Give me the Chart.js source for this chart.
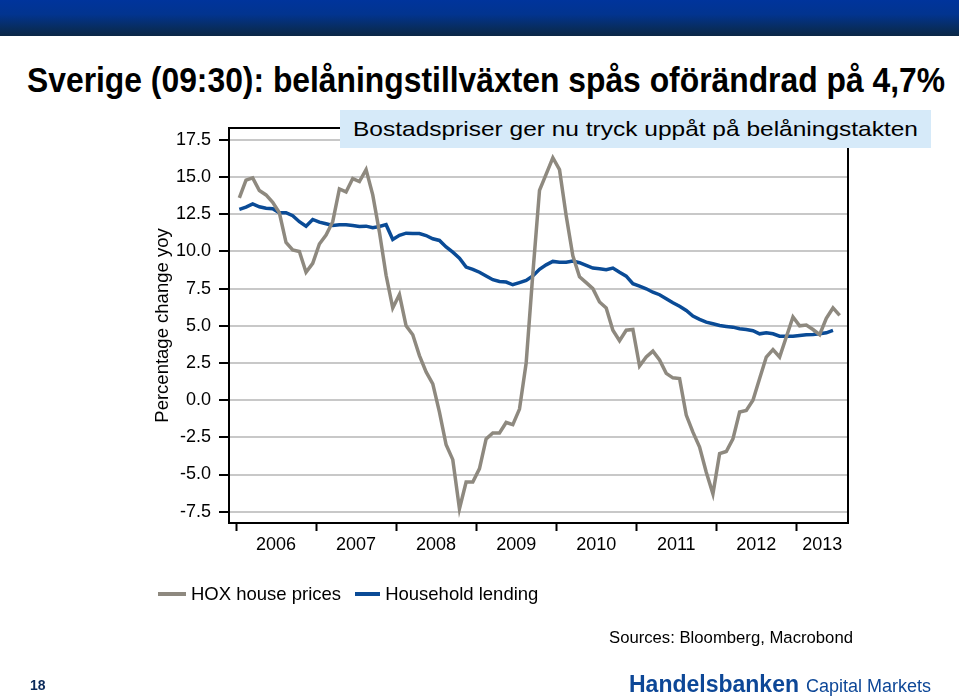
<!DOCTYPE html>
<html>
<head>
<meta charset="utf-8">
<script src="https://cdn.jsdelivr.net/npm/chart.js@4/dist/chart.umd.min.js"></script>
<style>
  html, body { margin: 0; padding: 0; background: #fff; }
  body { width: 959px; height: 700px; position: relative; overflow: hidden; font-family: "Liberation Sans", Arial, sans-serif; }
  #banner { position: absolute; left: 0; top: 0; width: 959px; height: 36px;
    background: linear-gradient(to bottom, #00349c 0%, #02348f 40%, #082c5c 80%, #0b2846 100%); }
  #title { position: absolute; left: 27px; top: 62px; font-size: 35px; line-height: 35px; font-weight: bold; color: #000;
    white-space: nowrap; transform-origin: left center; }
  #chartBox { position: absolute; left: 0; top: 0; width: 959px; height: 700px; }
  #note { position: absolute; left: 340px; top: 110px; width: 591px; height: 38px; background: #d6eaf9;
    display: flex; align-items: center; z-index: 2; }
  #note span { margin-left: 13px; font-size: 21px; color: #000; white-space: nowrap; display: inline-block; transform-origin: left center; }
  #legend { position: absolute; left: 158px; top: 583px; height: 22px; display: flex; align-items: center; font-size: 18.5px; color: #000; white-space: nowrap; }
  #legend .sw { display: inline-block; height: 4px; margin-right: 5px; }
  #sources { position: absolute; left: 609px; top: 628px; font-size: 16.7px; color: #000; white-space: nowrap; }
  #page { position: absolute; left: 30px; top: 677px; font-size: 14px; font-weight: bold; color: #0b2a5a; }
  #brand { position: absolute; left: 629px; top: 671px; white-space: nowrap; color: #0d4797; }
  #brand b { font-size: 23px; }
  #brand span { font-size: 18px; margin-left: 7px; }
</style>
</head>
<body>
<div id="banner"></div>
<div id="title">Sverige (09:30): belåningstillväxten spås oförändrad på 4,7%</div>
<div id="chartBox"><canvas id="chart"></canvas></div>
<div id="note"><span>Bostadspriser ger nu tryck uppåt på belåningstakten</span></div>
<div id="legend"></div>
<div id="sources">Sources: Bloomberg, Macrobond</div>
<div id="page">18</div>
<div id="brand"><b>Handelsbanken</b><span>Capital Markets</span></div>

<script>
// monthly data, Jan 2006 onwards
const yearLabels = ['2006', '2007', '2008', '2009', '2010', '2011', '2012', '2013'];
const yTickValues = [-7.5, -5, -2.5, 0, 2.5, 5, 7.5, 10, 12.5, 15, 17.5];

const hoxHousePrices = [
  13.6, 14.8, 14.95, 14.1, 13.8, 13.3, 12.6, 10.6, 10.1, 10.0, 8.6, 9.2,
  10.5, 11.1, 12.0, 14.2, 14.0, 14.9, 14.7, 15.5, 13.8, 11.3, 8.4, 6.2,
  7.1, 5.0, 4.4, 3.0, 1.9, 1.1, -0.8, -3.0, -4.0, -7.3, -5.5, -5.5,
  -4.6, -2.6, -2.2, -2.2, -1.5, -1.65, -0.6, 2.5, 8.5, 14.1, 15.2, 16.3,
  15.5, 12.4, 9.7, 8.3, 7.9, 7.5, 6.6, 6.2, 4.7, 4.0, 4.7, 4.75,
  2.3, 2.9, 3.3, 2.7, 1.8, 1.5, 1.45, -1.0, -2.15, -3.15, -4.85, -6.3,
  -3.6, -3.45, -2.6, -0.8, -0.7, 0.0, 1.45, 2.9, 3.4, 2.9, 4.25, 5.6,
  5.0, 5.05, 4.75, 4.4, 5.5, 6.2, 5.7
];

const householdLending = [
  12.83, 12.98, 13.2, 13.0, 12.9, 12.87, 12.6, 12.6, 12.4, 12.0, 11.7, 12.15,
  11.97, 11.86, 11.75, 11.8, 11.8, 11.75, 11.68, 11.7, 11.6, 11.68, 11.8, 10.8,
  11.08, 11.23, 11.2, 11.2, 11.07, 10.85, 10.74, 10.3, 9.95, 9.55, 8.95, 8.8,
  8.6, 8.35, 8.1, 7.98, 7.94, 7.76, 7.9, 8.05, 8.35, 8.8, 9.1, 9.33,
  9.28, 9.28, 9.35, 9.24, 9.06, 8.88, 8.84, 8.77, 8.88, 8.6, 8.34, 7.83,
  7.67, 7.49, 7.26, 7.09, 6.82, 6.55, 6.32, 6.03, 5.65, 5.43, 5.25, 5.14,
  5.02, 4.96, 4.91, 4.8, 4.75, 4.67, 4.46, 4.53, 4.46, 4.3, 4.3, 4.3,
  4.35, 4.4, 4.42, 4.46, 4.53, 4.69
];

const seriesNames = ['HOX house prices', 'Household lending'];
const grayColor = '#8e897f';
const blueColor = '#0a4b96';

// x is months since start of 2006, point placed mid-month
const toPoints = arr => arr.map((v, i) => ({ x: i + 0.5, y: v }));

// fit title and note text to the widths seen on the slide
function fitWidth(el, target) {
  const w = el.getBoundingClientRect().width;
  el.style.transform = 'scaleX(' + (target / w) + ')';
}
fitWidth(document.getElementById('title'), 918);
fitWidth(document.querySelector('#note span'), 565);

// legend
const legend = document.getElementById('legend');
[[seriesNames[0], grayColor, 28], [seriesNames[1], blueColor, 25]].forEach(([name, col, w], k) => {
  const item = document.createElement('span');
  item.style.display = 'inline-flex';
  item.style.alignItems = 'center';
  item.style.marginRight = k === 0 ? '14px' : '0';
  item.innerHTML = '<span class="sw" style="width:' + w + 'px;background:' + col + '"></span>' + name;
  legend.appendChild(item);
});

Chart.defaults.font.family = '"Liberation Sans", Arial, sans-serif';
Chart.defaults.color = '#000';

const frame = {
  id: 'frame',
  afterDraw(chart) {
    const { ctx, chartArea: a, scales } = chart;
    ctx.save();
    ctx.strokeStyle = '#000';
    ctx.lineWidth = 2;
    ctx.beginPath();
    ctx.moveTo(a.left, a.top);
    ctx.lineTo(a.right, a.top);
    ctx.lineTo(a.right, a.bottom);
    ctx.stroke();

    // year labels centred in the visible part of each year
    const x = scales.x;
    ctx.font = '18px "Liberation Sans", Arial, sans-serif';
    ctx.fillStyle = '#000';
    ctx.textAlign = 'center';
    ctx.textBaseline = 'middle';
    yearLabels.forEach((lab, k) => {
      const p1 = x.getPixelForValue(k * 12);
      const p2 = Math.min(x.getPixelForValue((k + 1) * 12), a.right);
      ctx.fillText(lab, (p1 + p2) / 2, a.bottom + 22);
    });
    ctx.restore();
  }
};

new Chart(document.getElementById('chart'), {
  type: 'line',
  data: {
    datasets: [
      { label: seriesNames[0], data: toPoints(hoxHousePrices), borderColor: grayColor, borderWidth: 3.5, pointRadius: 0, tension: 0 },
      { label: seriesNames[1], data: toPoints(householdLending), borderColor: blueColor, borderWidth: 3.5, pointRadius: 0, tension: 0 }
    ]
  },
  options: {
    responsive: true,
    maintainAspectRatio: false,
    animation: false,
    layout: { padding: { top: 128, left: 150, right: 111, bottom: 137 } },
    plugins: { legend: { display: false }, tooltip: { enabled: false } },
    scales: {
      x: {
        type: 'linear',
        min: -1.05,
        max: 91.75,
        afterBuildTicks: s => { s.ticks = yearLabels.map((_, k) => ({ value: k * 12 })); },
        afterFit: s => { s.height = 40; },
        ticks: { display: false },
        grid: { drawOnChartArea: false, drawTicks: true, tickLength: 8, tickColor: '#000', tickWidth: 2 },
        border: { display: true, color: '#000', width: 2 }
      },
      y: {
        min: -8.26,
        max: 18.3,
        afterBuildTicks: s => { s.ticks = yTickValues.map(v => ({ value: v })); },
        afterFit: s => { s.width = 79; },
        ticks: { font: { size: 18 }, padding: 8, callback: v => v.toFixed(1) },
        grid: { color: '#c8c8c8', lineWidth: 2, tickLength: 10, tickColor: '#000', tickWidth: 2 },
        border: { display: true, color: '#000', width: 2 },
        title: { display: true, text: 'Percentage change yoy', font: { size: 18.5 }, padding: { top: 2, bottom: 0 } }
      }
    }
  },
  plugins: [frame]
});
</script>
</body>
</html>
